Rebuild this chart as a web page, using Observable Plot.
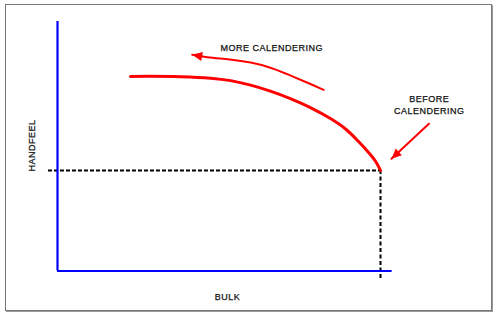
<!DOCTYPE html>
<html>
<head>
<meta charset="utf-8">
<script src="https://cdn.jsdelivr.net/npm/d3@7"></script>
<script src="https://cdn.jsdelivr.net/npm/@observablehq/plot@0.6"></script>
<style>
  html, body { margin: 0; padding: 0; background: #fff; }
  #wrap { position: relative; width: 500px; height: 317px; }
  #border { position: absolute; left: 5px; top: 4px; width: 485px; height: 305px;
            border: 1px solid #777; box-shadow: 1px 1px 0 #999; pointer-events: none; }
  svg { display: block; }
</style>
</head>
<body>
<div id="wrap"><div id="border"></div></div>
<script>
// Conceptual axes: bulk (x) and handfeel (y), both 0..100
const xDomain = [0, 100];
const yDomain = [0, 100];

// Red curve: handfeel vs bulk as calendering increases (right → left)
const curveBulk     = [22.6, 38.1, 47.4, 53.6, 59.8, 65.9, 72.1, 78.3, 84.5, 89.2, 93.2, 96.3, 98.5, 100];
const curveHandfeel = [78.0, 77.9, 77.3, 76.3, 74.5, 72.1, 69.1, 65.5, 61.1, 56.9, 51.9, 47.5, 43.9, 40.3];

// "Before calendering" reference point
const beforeBulk = 100;
const beforeHandfeel = 40.3;

// Arrow "more calendering" path (tail → tip)
const moreArrowX = [82.4, 78.3, 72.1, 65.9, 59.8, 53.6, 45.8, 41.7];
const moreArrowY = [72.6, 75.0, 78.4, 81.7, 83.7, 84.8, 85.7, 86.7];

// Arrow pointing to "before calendering" point (tail → tip)
const beforeArrowX = [115.0, 103.4];
const beforeArrowY = [59.0, 45.0];

// Axis extents
const axisXEnd = 103.6;
const axisYEnd = 100;
const dashXStart = -2.8;
const dashYEnd = -3.4;

// Labels
const labelText = ["MORE CALENDERING", "BEFORE\nCALENDERING", "BULK"];
const labelX    = [66.3, 115.1, 52.6];
const labelY    = [89.8, 66.9, -10.1];
const yLabel = "HANDFEEL";
const yLabelX = -7.8;
const yLabelY = 50.3;

// ---- layout
const W = 500, H = 317;
const mL = 57, mR = 120, mT = 21, mB = 46.5;
const xs = Plot.scale({x: {domain: xDomain, range: [mL, W - mR]}});
const ys = Plot.scale({y: {domain: yDomain, range: [H - mB, mT]}});

const curve = curveBulk.map((x, i) => ({x, y: curveHandfeel[i]}));
const moreArrow = moreArrowX.map((x, i) => ({x, y: moreArrowY[i]}));
const beforeArrow = beforeArrowX.map((x, i) => ({x, y: beforeArrowY[i]}));
const labels = labelText.map((t, i) => ({t, x: labelX[i], y: labelY[i]}));

function head(pts) {
  const a = pts[pts.length - 2], b = pts[pts.length - 1];
  const dx = xs.apply(b.x) - xs.apply(a.x);
  const dy = ys.apply(b.y) - ys.apply(a.y);
  return {x: b.x, y: b.y, r: Math.atan2(dx, -dy) * 180 / Math.PI};
}
const heads = [head(moreArrow), head(beforeArrow)];
const headSymbol = {
  draw(ctx) { ctx.moveTo(0, 0); ctx.lineTo(-4.5, 10); ctx.lineTo(4.5, 10); ctx.closePath(); }
};

const font = "'Liberation Sans', Arial, sans-serif";

const chart = Plot.plot({
  width: W, height: H,
  marginLeft: mL, marginRight: mR, marginTop: mT, marginBottom: mB,
  x: {domain: xDomain, axis: null},
  y: {domain: yDomain, axis: null},
  style: {background: "transparent", fontFamily: font, letterSpacing: "0.5px"},
  marks: [
    // dashed guides
    Plot.ruleY([beforeHandfeel], {x1: dashXStart, x2: beforeBulk, stroke: "#000", strokeWidth: 2, strokeDasharray: "4,2"}),
    Plot.ruleX([beforeBulk], {y1: beforeHandfeel, y2: dashYEnd, stroke: "#000", strokeWidth: 2, strokeDasharray: "4,2.5"}),
    // blue axes
    Plot.ruleX([0], {y1: 0, y2: axisYEnd, stroke: "#0000ff", strokeWidth: 2.2}),
    Plot.ruleY([0], {x1: 0, x2: axisXEnd, stroke: "#0000ff", strokeWidth: 2.2}),
    // curve
    Plot.line(curve, {x: "x", y: "y", stroke: "#ff0000", strokeWidth: 3, curve: "catmull-rom"}),
    // arrows
    Plot.line(moreArrow, {x: "x", y: "y", stroke: "#ff0000", strokeWidth: 2, curve: "basis"}),
    Plot.line(beforeArrow, {x: "x", y: "y", stroke: "#ff0000", strokeWidth: 2}),
    Plot.dot(heads, {x: "x", y: "y", rotate: "r", symbol: headSymbol, fill: "#ff0000", stroke: null}),
    // labels
    Plot.text(labels, {x: "x", y: "y", text: "t", fontSize: 9, fill: "#111", stroke: "#111", strokeWidth: 0.25, lineHeight: 1.28, textAnchor: "middle"}),
    Plot.text([yLabel], {x: yLabelX, y: yLabelY, text: d => d, rotate: -90, fontSize: 9, fill: "#111", stroke: "#111", strokeWidth: 0.25, textAnchor: "middle"})
  ]
});
document.getElementById("wrap").prepend(chart);
</script>
</body>
</html>
